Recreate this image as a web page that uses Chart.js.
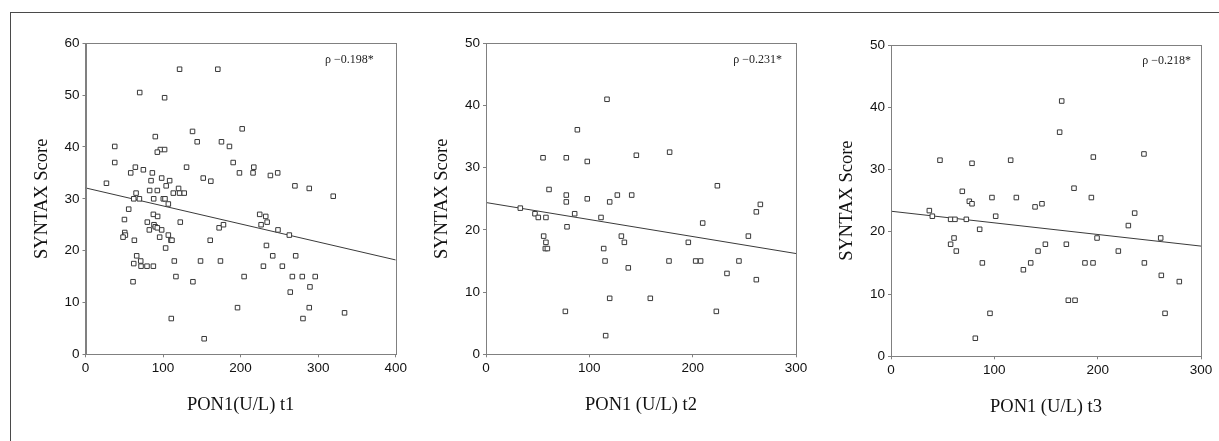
<!DOCTYPE html>
<html>
<head>
<meta charset="utf-8">
<title>PON1 vs SYNTAX Score</title>
<script src="https://cdn.jsdelivr.net/npm/chart.js@4.4.1/dist/chart.umd.min.js"></script>
<style>
  html, body { margin: 0; padding: 0; background: #fff; }
  #page { position: relative; width: 1219px; height: 441px; overflow: hidden; }
  #frame {
    position: absolute; left: 10px; top: 12px; width: 1209px; height: 429px;
    border-top: 1px solid #4a4a4a; border-left: 1px solid #4a4a4a;
  }
  .panel { position: absolute; top: 0; }
</style>
</head>
<body>
<div id="page">
  <div id="frame"></div>
  <div class="panel" style="left:0px"><canvas id="chart-t1" width="410" height="441"></canvas></div>
  <div class="panel" style="left:410px"><canvas id="chart-t2" width="410" height="441"></canvas></div>
  <div class="panel" style="left:820px"><canvas id="chart-t3" width="399" height="441"></canvas></div>
</div>
<script>
// PON1 t1 (U/L) vs SYNTAX score
const t1X = [27, 37.7, 37.7, 58.3, 64.3, 74.6, 69.9, 102, 121.3, 170.6, 90, 96.5, 102, 92.6, 86.2, 84.5,
  98.2, 108.5, 104, 120, 113.2, 121.3, 127.3, 130.3, 138, 144, 151.8, 161.6, 175.3, 185.6, 190.4, 198.5,
  202, 216, 217, 238.4, 247.8, 270, 288.5, 319.4, 82.7, 92.6, 65.2, 62.2, 69.5, 87.9, 100.3, 102.5,
  106.8, 55.7, 87.5, 93, 50.2, 79.7, 88.3, 90, 82.3, 98.2, 92.6, 50.6, 51.4, 48.4, 95.6, 106.8, 122.2,
  63, 110.2, 111.5, 103.3, 66, 62.2, 71.2, 71.6, 79.3, 87.5, 61.3, 114.5, 116.6, 110.6, 138.5, 148.3,
  153, 160.8, 172.3, 177.9, 174, 196, 204.5, 224.6, 232.4, 234.2, 226.4, 248.2, 262.8, 233.3, 241.4,
  271, 229.4, 253.8, 266.7, 279.5, 296.2, 289.4, 264, 288.5, 280.4, 334];
const t1Y = [33, 40.1, 37, 35, 36.1, 35.6, 50.5, 49.5, 55, 55, 42, 39.5, 39.5, 39, 35, 33.5,
  34, 33.5, 32.5, 32, 31.1, 31.1, 31.1, 36.1, 43, 41, 34, 33.4, 41, 40.1, 37, 35,
  43.5, 35, 36.1, 34.5, 35, 32.5, 32, 30.5, 31.6, 31.6, 31.1, 30, 30, 30, 30, 30,
  29, 28, 27, 26.6, 26, 25.5, 25, 24.6, 24, 24, 24.4, 23.5, 23, 22.6, 22.6, 23, 25.5,
  22, 22, 22, 20.5, 19, 17.5, 18, 17, 17, 17, 14, 18, 15, 6.9, 14, 18,
  3, 22, 24.4, 25, 18, 9, 15, 27, 26.6, 25.5, 25, 24, 23, 21, 19,
  19, 17, 17, 15, 15, 15, 13, 12, 9, 6.9, 8];
const t1FitX = [0, 400];
const t1FitY = [32.1, 18.2];

// PON1 t2 (U/L) vs SYNTAX score
const t2X = [33.2, 47.4, 50.6, 55.2, 61, 58, 55.8, 58, 57.4, 59.4, 77.7, 77.7, 77.7, 78.4, 76.8, 85.8,
  88.4, 98, 98, 111.3, 113.9, 115.2, 115.8, 117.1, 119.7, 119.7, 127.1, 131, 133.9, 137.7, 141, 145.5,
  159, 177.1, 177.7, 195.8, 202.9, 207.7, 209.7, 222.9, 223.9, 233.2, 244.8, 253.9, 261.6, 265.5, 261.6];
const t2Y = [23.5, 22.6, 22, 31.6, 26.5, 22, 19, 18, 17, 17, 31.6, 25.6, 24.5, 20.5, 6.9, 22.6,
  36.1, 31, 25, 22, 17, 15, 3, 41, 24.5, 9, 25.6, 19, 18, 13.9, 25.6, 32,
  9, 15, 32.5, 18, 15, 15, 21.1, 6.9, 27.1, 13, 15, 19, 22.9, 24.1, 12];
const t2FitX = [0, 300];
const t2FitY = [24.4, 16.2];

// PON1 t3 (U/L) vs SYNTAX score
const t3X = [37.1, 40, 47.4, 57.7, 61.9, 57.7, 61, 63.2, 69, 72.9, 75.8, 78.4, 78.4, 81.6, 85.8, 88.4,
  95.8, 97.7, 101.3, 115.8, 121.3, 128.1, 135.2, 139.4, 142.3, 146.1, 149.4, 163.2, 165.2, 169.7, 171.6,
  178.1, 177.1, 187.7, 193.9, 195.5, 195.8, 199.4, 220, 229.7, 235.8, 244.8, 245.2, 261, 261.6, 265.2, 279];
const t3Y = [23.4, 22.5, 31.5, 22, 22, 18, 19, 16.9, 26.5, 22, 24.9, 24.5, 31, 2.9, 20.4, 15,
  6.9, 25.5, 22.5, 31.5, 25.5, 13.9, 15, 24, 16.9, 24.5, 18, 36, 41, 18, 9,
  9, 27, 15, 25.5, 15, 32, 19, 16.9, 21, 23, 32.5, 15, 19, 13, 6.9, 12];
const t3FitX = [0, 300];
const t3FitY = [23.3, 17.7];

const rhoLabels = ["\u03c1 \u22120.198*", "\u03c1 \u22120.231*", "\u03c1 \u22120.218*"];
const xTitles = ["PON1(U/L) t1", "PON1 (U/L) t2", "PON1 (U/L) t3"];
const yTitle = "SYNTAX Score";

const axisColor = "#808080";
const tickFont = { family: "'Liberation Sans', Arial, sans-serif", size: 13.5 };
const titleFont = { family: "'Liberation Serif', 'Times New Roman', serif", size: 18.5 };

function toPoints(xs, ys) {
  return xs.map((x, i) => ({ x: x, y: ys[i] }));
}

// box round the plot area plus the rho note in the top right corner
const boxPlugin = {
  id: "box",
  afterDraw: function (chart, args, opts) {
    const a = chart.chartArea;
    const ctx = chart.ctx;
    ctx.save();
    ctx.strokeStyle = axisColor;
    ctx.lineWidth = 1;
    ctx.strokeRect(Math.round(a.left) + 0.5, Math.round(a.top) + 0.5,
      Math.round(a.right) - Math.round(a.left), Math.round(a.bottom) - Math.round(a.top));
    ctx.fillStyle = "#222";
    ctx.font = "12px 'Liberation Serif', 'Times New Roman', serif";
    ctx.textAlign = "right";
    ctx.textBaseline = "middle";
    ctx.fillText(opts.text, a.right - opts.right, a.top + opts.top);
    ctx.restore();
  }
};

function makeChart(id, xs, ys, fitX, fitY, xMax, yMax, idx, pad, yWidth, xHeight, note) {
  const ctx = document.getElementById(id);
  return new Chart(ctx, {
    type: "scatter",
    data: {
      datasets: [
        {
          label: "fit",
          data: toPoints(fitX, fitY),
          showLine: true,
          borderColor: "#3a3a3a",
          borderWidth: 1,
          pointRadius: 0,
          order: 2
        },
        {
          label: "patients",
          data: toPoints(xs, ys),
          pointStyle: "rect",
          pointRadius: 3.2,
          pointHoverRadius: 3.2,
          borderWidth: 1,
          borderColor: "#383838",
          backgroundColor: "#ffffff",
          order: 1
        }
      ]
    },
    options: {
      responsive: false,
      maintainAspectRatio: false,
      animation: false,
      events: [],
      layout: { padding: pad },
      plugins: {
        legend: { display: false },
        tooltip: { enabled: false },
        box: { text: rhoLabels[idx], right: note.right, top: note.top }
      },
      scales: {
        x: {
          type: "linear",
          min: 0,
          max: xMax,
          afterFit: (s) => { s.height = xHeight; },
          grid: { display: true, drawOnChartArea: false, drawTicks: true, tickLength: 3, color: axisColor },
          border: { display: true, color: axisColor },
          ticks: { stepSize: 100, color: "#111", font: tickFont, padding: 3, maxRotation: 0 },
          title: { display: true, text: xTitles[idx], color: "#111", font: titleFont, padding: 0 }
        },
        y: {
          type: "linear",
          min: 0,
          max: yMax,
          afterFit: (s) => { s.width = yWidth; },
          grid: { display: true, drawOnChartArea: false, drawTicks: true, tickLength: 3, color: axisColor },
          border: { display: true, color: axisColor },
          ticks: { stepSize: 10, color: "#111", font: tickFont, padding: 3 },
          title: { display: true, text: yTitle, color: "#111", font: titleFont, padding: 0 }
        }
      }
    },
    plugins: [boxPlugin]
  });
}

makeChart("chart-t1", t1X, t1Y, t1FitX, t1FitY, 400, 60, 0,
  { left: 31.4, top: 43.3, right: 14, bottom: 24.9 }, 54.1, 61.8, { right: 22, top: 17 });
makeChart("chart-t2", t2X, t2Y, t2FitX, t2FitY, 300, 50, 1,
  { left: 20.9, top: 43.3, right: 24, bottom: 24.9 }, 55.1, 61.8, { right: 14, top: 17 });
makeChart("chart-t3", t3X, t3Y, t3FitX, t3FitY, 300, 50, 2,
  { left: 15.9, top: 45, right: 18, bottom: 23.2 }, 55.1, 61.5, { right: 10, top: 16 });
</script>
</body>
</html>
